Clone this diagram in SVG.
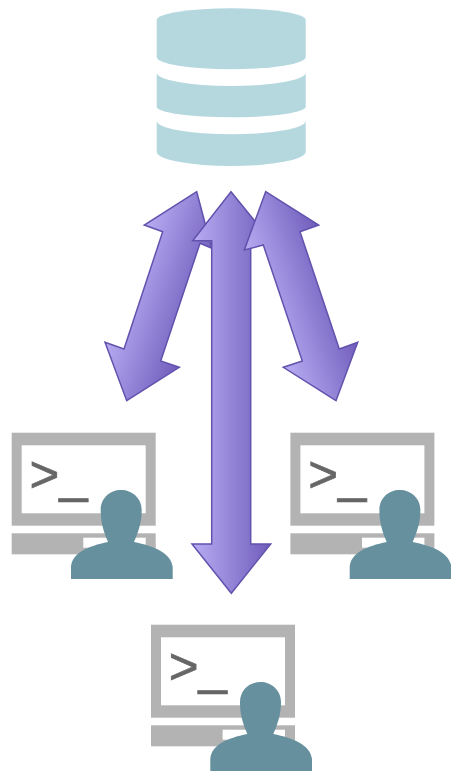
<svg xmlns="http://www.w3.org/2000/svg" width="451" height="771" viewBox="0 0 451 771">
<style>
.db{fill:#b5d8df}
.hw{fill:#b3b3b3}
.scr{fill:#fff}
.prompt{font-family:"Liberation Sans",Arial,sans-serif;font-size:51px;fill:#666;stroke:#666;stroke-width:.7px}
.user{fill:#66909e}
.arrow{stroke:#6252ad;stroke-width:1.5;stroke-linejoin:miter}
</style>
<defs>
<linearGradient id="gL" gradientUnits="userSpaceOnUse" x1="124" y1="283" x2="200" y2="309"><stop offset="0" stop-color="#b9adf3"/><stop offset="1" stop-color="#6f5cbb"/></linearGradient>
<linearGradient id="gC" gradientUnits="userSpaceOnUse" x1="192" y1="0" x2="271" y2="0"><stop offset="0" stop-color="#b9adf3"/><stop offset="1" stop-color="#6f5cbb"/></linearGradient>
<linearGradient id="gR" gradientUnits="userSpaceOnUse" x1="263" y1="309" x2="339" y2="283"><stop offset="0" stop-color="#b9adf3"/><stop offset="1" stop-color="#6f5cbb"/></linearGradient>
<g id="computer">
<rect class="hw" x="11.7" y="432.7" width="144" height="93"/>
<rect class="scr" x="21.7" y="445.3" width="124" height="68"/>
<rect class="hw" x="11.7" y="533.3" width="144" height="21"/>
<rect class="scr" x="83.3" y="537.7" width="62.4" height="10"/>
<text class="prompt" x="29.500" y="492">&gt;_</text>
<path class="user" d="M71,579V567C72,553 88,546 108,542C103,530 100.700,522 100.700,510C100.700,498 110,490 121,490C132,490 141.700,498 141.700,510C141.700,522 139,530 134,542C154,546 171,553 172.700,567V579Z"/>
</g>
</defs>
<g id="database">
<path class="db" d="M156.700,20A74.500,11.700 0 0 1 305.700,20V57A74.500,12.300 0 0 1 156.700,57Z"/>
<path class="db" d="M156.700,72.700A74.500,13.300 0 0 0 305.700,72.700V106.700A74.500,10.600 0 0 1 156.700,106.700Z"/>
<path class="db" d="M156.700,120.700A74.500,13.600 0 0 0 305.700,120.700V151.700A74.500,14.300 0 0 1 156.700,151.700Z"/>
</g>
<g id="connectors">
<path id="arrow-left" class="arrow" fill="url(#gL)" d="M196.700,191.700L211.700,248.300L200,243.300L160.700,361L179.300,367.300L126.700,400.700L105,342.300L124,349L162.700,231.700L144.300,225Z"/>
<path id="arrow-center" class="arrow" fill="url(#gC)" d="M231,191.700L270.700,240.700H250.700V544H270.700L231.300,593.300L192,544H211.700V240.700H192.700Z"/>
<path id="arrow-right" class="arrow" fill="url(#gR)" d="M265.700,191.700L318.700,225L300,231.700L339.300,349L357.700,342.300L336,400.700L283.300,367.300L302.300,361L263.300,245L244.300,250Z"/>
</g>
<g id="client-left"><use href="#computer"/></g>
<g id="client-right"><use href="#computer" x="278.700"/></g>
<g id="client-bottom"><use href="#computer" x="139.300" y="192"/></g>
</svg>
